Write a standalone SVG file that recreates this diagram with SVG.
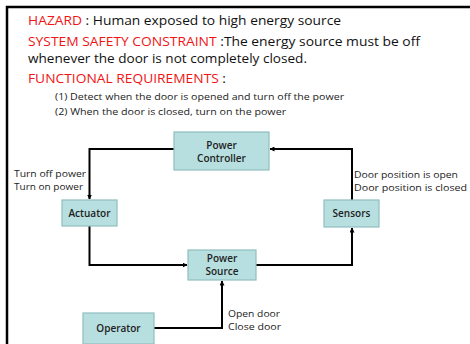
<svg xmlns="http://www.w3.org/2000/svg" width="470" height="344" viewBox="0 0 470 344">
<defs>
<marker id="arr" viewBox="0 0 10 10" refX="9" refY="5" markerWidth="5" markerHeight="5" orient="auto" markerUnits="userSpaceOnUse">
<path d="M0,0 L10,5 L0,10 z" fill="#000"/>
</marker>
<style>
.box{fill:#b7dfe0;stroke:#8fbfbf;stroke-width:1.2}
.lbl{font-family:"Open Sans","Noto Sans",sans-serif;font-size:9.5px;font-weight:500;fill:#222}
.nt{font-family:"Open Sans","Noto Sans",sans-serif;font-size:10px;font-weight:600;fill:#222;text-anchor:middle}
.hd{font-family:"Open Sans","Noto Sans",sans-serif;font-size:13px;font-weight:500;fill:#111}
.red{fill:#f01414}
.req{font-family:"Open Sans","Noto Sans",sans-serif;font-size:9.8px;font-weight:500;fill:#222}
.con{fill:none;stroke:#000;stroke-width:2;marker-end:url(#arr)}
</style>
</defs>
<rect width="470" height="344" fill="#fff"/>
<path d="M7,344 V7 H470" fill="none" stroke="#000" stroke-width="2.5"/>
<g id="header">
<text class="hd" x="28" y="25" textLength="313" lengthAdjust="spacingAndGlyphs"><tspan class="red">HAZARD</tspan> : Human exposed to high energy source</text>
<text class="hd" x="28" y="46" textLength="392" lengthAdjust="spacingAndGlyphs"><tspan class="red">SYSTEM SAFETY CONSTRAINT</tspan> :The energy source must be off</text>
<text class="hd" x="28" y="63" textLength="279" lengthAdjust="spacingAndGlyphs">whenever the door is not completely closed.</text>
<text class="hd" x="28" y="83" textLength="198" lengthAdjust="spacingAndGlyphs"><tspan class="red">FUNCTIONAL REQUIREMENTS</tspan> :</text>
<text class="req" x="55" y="100" textLength="289" lengthAdjust="spacingAndGlyphs">(1) Detect when the door is opened and turn off the power</text>
<text class="req" x="55" y="115" textLength="231" lengthAdjust="spacingAndGlyphs">(2) When the door is closed, turn on the power</text>
</g>
<g id="connectors">
<path class="con" d="M174,149 H89.5 V199"/>
<path class="con" d="M89.5,226 V265 H187"/>
<path class="con" d="M256,265 H352 V228"/>
<path class="con" d="M352,200 V149 H270"/>
<path class="con" d="M154,328 H222 V281"/>
</g>
<g id="labels">
<text class="lbl" x="14" y="176.5" textLength="72" lengthAdjust="spacingAndGlyphs">Turn off power</text>
<text class="lbl" x="14" y="189.5" textLength="69" lengthAdjust="spacingAndGlyphs">Turn on power</text>
<text class="lbl" x="354" y="177.5" textLength="104" lengthAdjust="spacingAndGlyphs">Door position is open</text>
<text class="lbl" x="354" y="190.5" textLength="113" lengthAdjust="spacingAndGlyphs">Door position is closed</text>
<text class="lbl" x="228" y="316.5" textLength="52" lengthAdjust="spacingAndGlyphs">Open door</text>
<text class="lbl" x="228" y="329.5" textLength="53" lengthAdjust="spacingAndGlyphs">Close door</text>
</g>
<g id="power-controller">
<rect class="box" x="174" y="132" width="95" height="38"/>
<text class="nt" x="221.5" y="149">Power</text>
<text class="nt" x="221.5" y="162">Controller</text>
</g>
<g id="actuator">
<rect class="box" x="62" y="200" width="55" height="26"/>
<text class="nt" x="89.5" y="217">Actuator</text>
</g>
<g id="sensors">
<rect class="box" x="324" y="200" width="55" height="27"/>
<text class="nt" x="351.5" y="217">Sensors</text>
</g>
<g id="power-source">
<rect class="box" x="188" y="250" width="68" height="30"/>
<text class="nt" x="222" y="262">Power</text>
<text class="nt" x="222" y="275">Source</text>
</g>
<g id="operator">
<rect class="box" x="83" y="313" width="71" height="31"/>
<text class="nt" x="118.5" y="332">Operator</text>
</g>
</svg>
